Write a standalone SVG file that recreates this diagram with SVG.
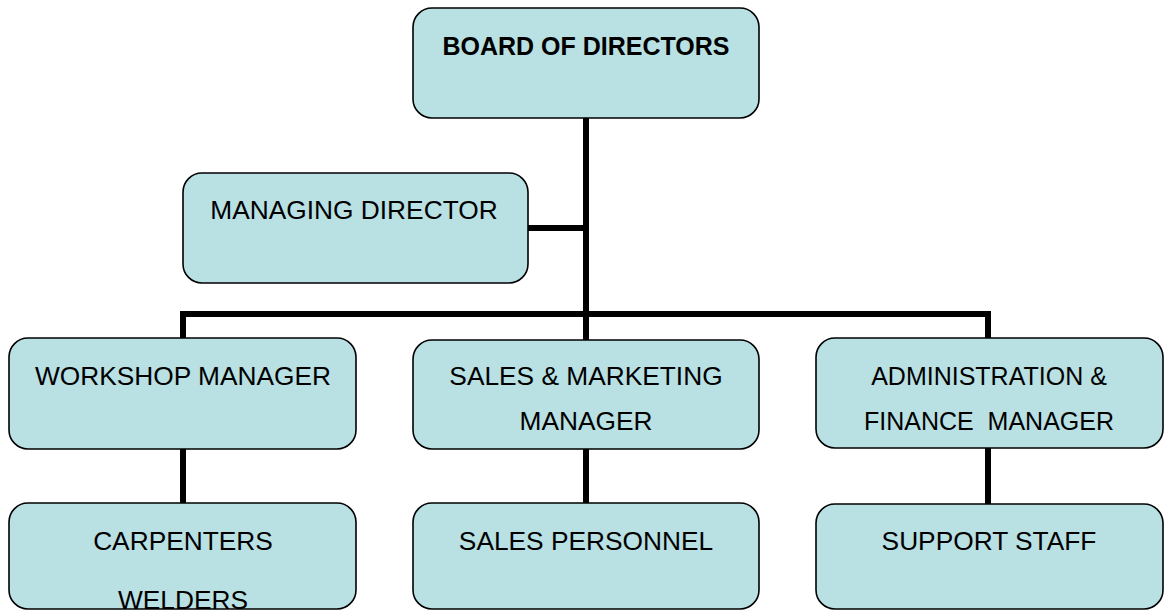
<svg xmlns="http://www.w3.org/2000/svg" width="1165" height="613" viewBox="0 0 1165 613">
<style>
.box{fill:#B9E0E3;stroke:#000;stroke-width:1.6}
.t{font-family:"Liberation Sans",Arial,sans-serif;font-size:26.3px;fill:#000;text-anchor:middle}
.b{font-weight:bold;font-size:25px}
.s{font-size:25px}
.c{stroke:#000;stroke-width:6;fill:none;stroke-linecap:butt}
</style>
<rect width="1165" height="613" fill="#fff"/>
<g id="connectors">
<path class="c" d="M586 118 V340"/>
<path class="c" d="M528 228 H586"/>
<path class="c" d="M183 338 V314 H988 V338"/>
<path class="c" d="M183 449 V503"/>
<path class="c" d="M586 449 V503"/>
<path class="c" d="M988 448 V504"/>
</g>
<g id="board">
<rect class="box" x="413" y="8" width="346" height="110" rx="19"/>
<text class="t b" x="586" y="55">BOARD OF DIRECTORS</text>
</g>
<g id="managing">
<rect class="box" x="183" y="173" width="345" height="110" rx="19"/>
<text class="t" x="354" y="219">MANAGING DIRECTOR</text>
</g>
<g id="workshop">
<rect class="box" x="9" y="338" width="347" height="111" rx="19"/>
<text class="t" x="183" y="385">WORKSHOP MANAGER</text>
</g>
<g id="sales">
<rect class="box" x="413" y="340" width="346" height="109" rx="19"/>
<text class="t" x="586" y="385">SALES &amp; MARKETING</text>
<text class="t" x="586" y="430">MANAGER</text>
</g>
<g id="admin">
<rect class="box" x="816" y="338" width="347" height="110" rx="19"/>
<text class="t s" x="989" y="385">ADMINISTRATION &amp;</text>
<text class="t s" x="989" y="430" xml:space="preserve">FINANCE  MANAGER</text>
</g>
<g id="carpenters">
<rect class="box" x="9" y="503" width="347" height="106" rx="19"/>
<text class="t" x="183" y="550">CARPENTERS</text>
<text class="t" x="183" y="609">WELDERS</text>
</g>
<g id="salespersonnel">
<rect class="box" x="413" y="503" width="346" height="106" rx="19"/>
<text class="t" x="586" y="550">SALES PERSONNEL</text>
</g>
<g id="support">
<rect class="box" x="816" y="504" width="347" height="105" rx="19"/>
<text class="t" x="989" y="550">SUPPORT STAFF</text>
</g>
</svg>
